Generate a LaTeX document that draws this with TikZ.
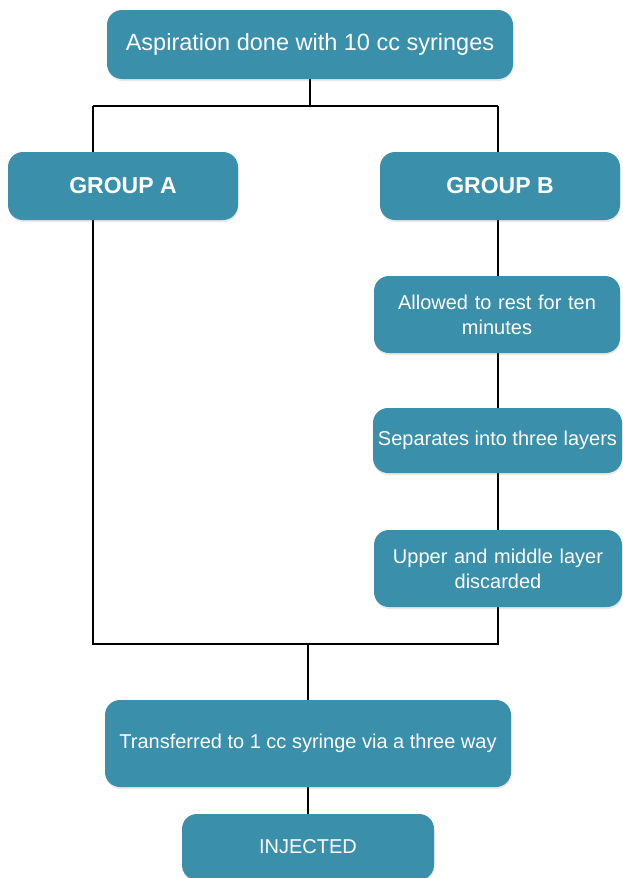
\documentclass[tikz,border=0pt]{standalone}
\usepackage{fontspec}
\setmainfont{Liberation Sans}
\usetikzlibrary{backgrounds,shadows}
\definecolor{teal1}{RGB}{58,143,170}
\tikzset{
  box/.style={rectangle, rounded corners=15pt, fill=teal1, text=white, align=center,
    inner sep=0pt, drop shadow={opacity=0.18, shadow xshift=0.5pt, shadow yshift=-2pt}},
  conn/.style={draw=black, line width=2pt},
}
\begin{document}
\begin{tikzpicture}[x=1pt,y=-1pt]
\useasboundingbox (0,0) rectangle (622,878);
\node[box, minimum width=406pt, minimum height=69pt, font=\fontsize{23.5}{27}\selectfont] (top) at (310,44.5) {Aspiration done with 10 cc syringes};
\node[box, minimum width=230pt, minimum height=68pt, font=\fontsize{23}{27}\selectfont\bfseries] (gA) at (123,186) {GROUP A};
\node[box, minimum width=240pt, minimum height=68pt, font=\fontsize{23}{27}\selectfont\bfseries] (gB) at (500,186) {GROUP B};
\node[box, minimum width=246pt, minimum height=77pt, text width=246pt, font=\fontsize{20}{25}\selectfont] (rest) at (497,314.5) {Allowed to rest for ten\\minutes};
\node[box, minimum width=249pt, minimum height=65pt, font=\fontsize{20}{25}\selectfont] (sep) at (497.5,440.5) {Separates into three layers};
\node[box, minimum width=248pt, minimum height=77pt, text width=248pt, font=\fontsize{20}{25}\selectfont] (upper) at (498,568.5) {Upper and middle layer\\discarded};
\node[box, minimum width=406pt, minimum height=87pt, font=\fontsize{20}{25}\selectfont] (trans) at (308,743.5) {Transferred to 1 cc syringe via a three way};
\node[box, minimum width=252pt, minimum height=66pt, font=\fontsize{20}{25}\selectfont] (inj) at (308,847) {INJECTED};
\coordinate (tj) at (310,106);
\coordinate (tl) at (93,106);
\coordinate (tr) at (498,106);
\coordinate (bl) at (93,644);
\coordinate (br) at (498,644);
\coordinate (bj) at (308,644);
\begin{scope}[on background layer]
\draw[conn] (top.south) -- (tj);
\draw[conn] (tl) -- (tr);
\draw[conn] (tl) -- (bl) -- (br) -- (tr);
\draw[conn] (bj) -- (trans.north);
\draw[conn] (trans.south) -- (inj.north);
\end{scope}
\end{tikzpicture}
\end{document}
